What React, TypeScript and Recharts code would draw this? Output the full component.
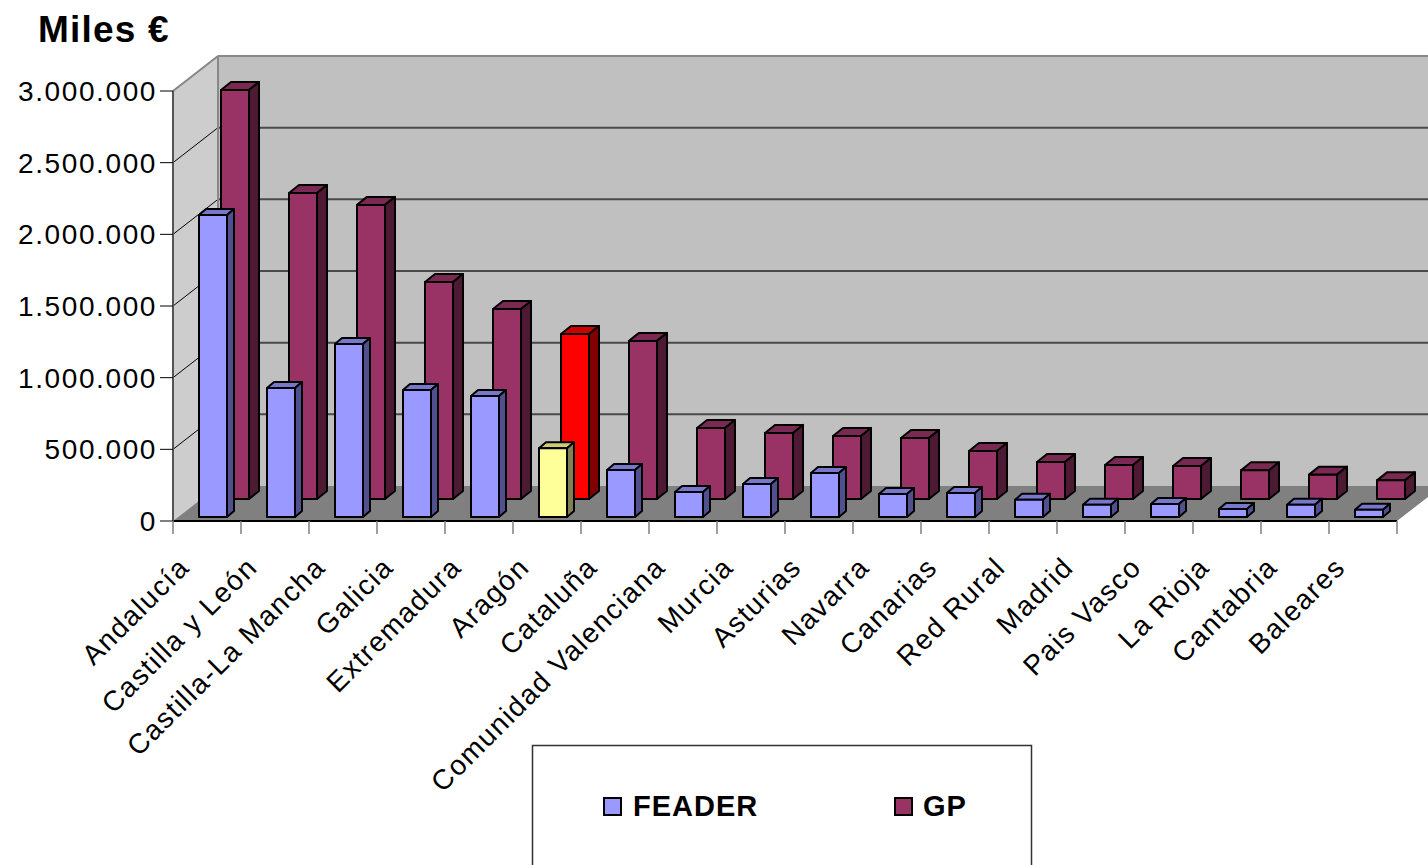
import { BarChart, Bar, XAxis, YAxis, ReferenceArea } from "recharts";

const regions = [
  "Andalucía",
  "Castilla y León",
  "Castilla-La Mancha",
  "Galicia",
  "Extremadura",
  "Aragón",
  "Cataluña",
  "Comunidad Valenciana",
  "Murcia",
  "Asturias",
  "Navarra",
  "Canarias",
  "Red Rural",
  "Madrid",
  "Pais Vasco",
  "La Rioja",
  "Cantabria",
  "Baleares",
];
const feader = [
  2107000, 900000, 1207000, 886000, 844000, 480000, 328000, 174000, 230000,
  307000, 160000, 167000, 120000, 85000, 90000, 56000, 85000, 50000,
];
const gp = [
  2854000, 2135000, 2052000, 1514000, 1326000, 1151000, 1103000, 495000,
  461000, 440000, 426000, 335000, 258000, 237000, 230000, 200000, 170000,
  130000,
];
const yTicks = [0, 500000, 1000000, 1500000, 2000000, 2500000, 3000000];
const highlight = "Aragón";

const W = 1428;
const H = 865;
const LEFT = 173;
const RIGHT = 31;
const TOP = 91;
const BOTTOM = 344;
const STEP = (W - LEFT - RIGHT) / regions.length;
const Y_MAX = yTicks[yTicks.length - 1];
// depth of the back wall
const WX = 45;
const WY = -35;
const FONT = "'Liberation Sans', Arial, sans-serif";

const data = regions.map((name, i) => ({ name, feader: feader[i], gp: gp[i] }));

const fmt = (v: number) => String(v).replace(/\B(?=(\d{3})+(?!\d))/g, ".");

const palette: Record<string, { face: string; top: string; side: string }> = {
  feader: { face: "#9999FF", top: "#7777CC", side: "#505090" },
  gp: { face: "#993366", top: "#7A2952", side: "#4D1A33" },
  feaderHi: { face: "#FFFF99", top: "#CCCC77", side: "#808050" },
  gpHi: { face: "#FF0000", top: "#CC0000", side: "#800000" },
};

function Walls(props: any) {
  const { x, y, width, height } = props;
  const b = y + height;
  const lines = yTicks
    .filter((t) => t > 0)
    .map((t) => y + height * (1 - t / Y_MAX));
  return (
    <g>
      <polygon
        points={`${x},${y} ${x + WX},${y + WY} ${x + WX},${b + WY} ${x},${b}`}
        fill="#CDCDCD"
      />
      <rect x={x + WX} y={y + WY} width={width + 10} height={height} fill="#C0C0C0" />
      <polygon
        points={`${x},${b} ${x + WX},${b + WY} ${x + width + WX},${b + WY} ${x + width},${b}`}
        fill="#808080"
      />
      {lines.map((ly, i) => (
        <g key={i}>
          <line x1={x} y1={ly} x2={x + WX} y2={ly + WY} stroke="#000" strokeWidth={1} />
          <line
            x1={x + WX}
            y1={ly + WY}
            x2={x + width + WX + 10}
            y2={ly + WY}
            stroke={i === lines.length - 1 ? "#888" : "#4A4A4A"}
            strokeWidth={2}
          />
        </g>
      ))}
      <line x1={x} y1={y} x2={x + WX} y2={y + WY} stroke="#888" strokeWidth={2} />
      <line x1={x + WX} y1={y + WY} x2={x + WX} y2={b + WY} stroke="#888" strokeWidth={2} />
    </g>
  );
}

function makeBox(row: "front" | "back") {
  return (props: any) => {
    const { x, y, width, height, payload } = props;
    if (!height || height <= 0) return <g />;
    const o =
      row === "front"
        ? { dx: 6, dy: -4, ddx: 7, ddy: -6 }
        : { dx: 28, dy: -22, ddx: 10, ddy: -8 };
    const hi = payload && payload.name === highlight;
    const c = palette[(row === "front" ? "feader" : "gp") + (hi ? "Hi" : "")];
    const fx = x + o.dx;
    const fy = y + o.dy;
    const r = fx + width;
    const bt = fy + height;
    return (
      <g stroke="#000" strokeWidth={2} strokeLinejoin="round">
        <polygon
          points={`${fx},${fy} ${fx + o.ddx},${fy + o.ddy} ${r + o.ddx},${fy + o.ddy} ${r},${fy}`}
          fill={c.top}
        />
        <polygon
          points={`${r},${fy} ${r + o.ddx},${fy + o.ddy} ${r + o.ddx},${bt + o.ddy} ${r},${bt}`}
          fill={c.side}
        />
        <rect x={fx} y={fy} width={width} height={height} fill={c.face} />
      </g>
    );
  };
}

function RegionTick(props: any) {
  const { x, y, payload, index } = props;
  const half = STEP / 2;
  const ax = x - 16;
  const ay = y + 48;
  return (
    <g>
      <line x1={x - half} y1={y} x2={x - half} y2={y + 13} stroke="#808080" strokeWidth={1.5} />
      {index === regions.length - 1 && (
        <line x1={x + half} y1={y} x2={x + half} y2={y + 13} stroke="#808080" strokeWidth={1.5} />
      )}
      <text
        x={ax}
        y={ay}
        transform={`rotate(-45, ${ax}, ${ay})`}
        textAnchor="end"
        fontSize={28}
        fontFamily={FONT}
        fill="#000"
        style={{ letterSpacing: 1.5 }}
      >
        {payload.value}
      </text>
    </g>
  );
}

function ValueTick(props: any) {
  const { x, y, payload } = props;
  return (
    <text
      x={x}
      y={y + 10}
      textAnchor="end"
      fontSize={28}
      fontFamily={FONT}
      fill="#000"
      style={{ letterSpacing: 1.6 }}
    >
      {fmt(payload.value)}
    </text>
  );
}

export default function App() {
  return (
    <div style={{ position: "absolute", left: 0, top: 0, width: W, height: H, background: "#fff" }}>
      <BarChart
        width={W}
        height={H}
        data={data}
        margin={{ top: TOP, right: RIGHT, bottom: 0, left: 0 }}
        barCategoryGap="10%"
      >
        <XAxis
          xAxisId="front"
          dataKey="name"
          interval={0}
          height={BOTTOM}
          tickSize={0}
          tickMargin={0}
          tickLine={false}
          axisLine={{ stroke: "#000", strokeWidth: 2 }}
          tick={<RegionTick />}
        />
        <XAxis xAxisId="back" dataKey="name" orientation="top" height={0} hide />
        <YAxis
          width={LEFT}
          domain={[0, Y_MAX]}
          ticks={yTicks}
          interval={0}
          tickSize={13}
          tickMargin={3}
          tickLine={{ stroke: "#000", strokeWidth: 1 }}
          axisLine={{ stroke: "#555", strokeWidth: 2 }}
          tick={<ValueTick />}
        />
        <ReferenceArea
          xAxisId="front"
          y1={0}
          y2={Y_MAX}
          ifOverflow="visible"
          shape={<Walls />}
          zIndex={-100}
        />
        <Bar
          xAxisId="back"
          dataKey="gp"
          name="GP"
          barSize={28}
          isAnimationActive={false}
          shape={makeBox("back")}
        />
        <Bar
          xAxisId="front"
          dataKey="feader"
          name="FEADER"
          barSize={28}
          isAnimationActive={false}
          shape={makeBox("front")}
        />
      </BarChart>
      <svg
        width={W}
        height={H}
        style={{ position: "absolute", left: 0, top: 0, pointerEvents: "none" }}
      >
        <text
          x={38}
          y={42}
          fontSize={37}
          fontWeight="bold"
          fontFamily={FONT}
          style={{ letterSpacing: 1.2 }}
        >
          Miles €
        </text>
        <rect x={532.5} y={745.5} width={499} height={140} fill="#fff" stroke="#333" strokeWidth={1.5} />
        <rect x={604} y={798} width={17} height={17} fill={palette.feader.face} stroke="#000" strokeWidth={2} />
        <text x={633} y={816} fontSize={29} fontWeight="bold" fontFamily={FONT} style={{ letterSpacing: 1 }}>
          FEADER
        </text>
        <rect x={895} y={798} width={17} height={17} fill={palette.gp.face} stroke="#000" strokeWidth={2} />
        <text x={923} y={816} fontSize={29} fontWeight="bold" fontFamily={FONT} style={{ letterSpacing: 1 }}>
          GP
        </text>
      </svg>
    </div>
  );
}
